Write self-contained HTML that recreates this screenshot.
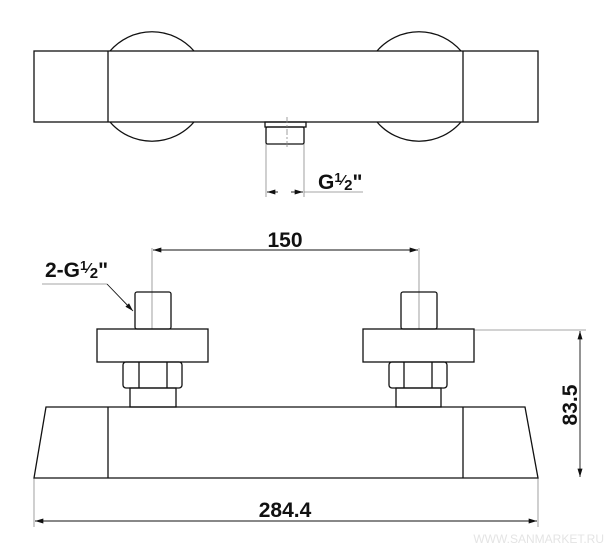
<!DOCTYPE html>
<html><head><meta charset="utf-8"><style>
html,body{margin:0;padding:0;background:#fff;}
svg{display:block;}
text{font-family:"Liberation Sans",Arial,sans-serif;fill:#111;}
</style></head><body>
<svg width="611" height="553" viewBox="0 0 611 553" xmlns="http://www.w3.org/2000/svg">
<defs>
<marker id="ar" viewBox="0 0 10 6" refX="10" refY="3" markerWidth="12" markerHeight="5" markerUnits="userSpaceOnUse" orient="auto-start-reverse"><path d="M0,0 L10,3 L0,6 z" fill="#111"/></marker>
</defs>
<g fill="none" stroke="#111" stroke-width="1.3">
<path d="M110,51 A55.5,55.5 0 0 1 194,51"/>
<path d="M110,122 A55.5,55.5 0 0 0 194,122"/>
<path d="M377,51 A55.5,55.5 0 0 1 461,51"/>
<path d="M377,122 A55.5,55.5 0 0 0 461,122"/>
<rect x="34" y="51" width="504" height="71"/>
<line x1="108" y1="51" x2="108" y2="122"/>
<line x1="463" y1="51" x2="463" y2="122"/>
<rect x="265" y="122" width="41" height="5"/>
<rect x="266" y="127" width="38" height="17" rx="1.5"/>
</g>
<g stroke="#888" stroke-width="0.8" fill="none">
<line x1="287" y1="117" x2="287" y2="148" stroke-dasharray="6,2,2,2"/>
<line x1="266" y1="144" x2="266" y2="197"/>
<line x1="304" y1="144" x2="304" y2="197"/>
<line x1="304" y1="192" x2="363" y2="192"/>
<line x1="152" y1="248" x2="152" y2="329"/>
<line x1="419" y1="248" x2="419" y2="329"/>
<line x1="474" y1="330" x2="586" y2="330"/>
<line x1="34" y1="478" x2="34" y2="527"/>
<line x1="538" y1="478" x2="538" y2="527"/>
<line x1="42" y1="284" x2="107" y2="284"/>
</g>
<g stroke="#111" stroke-width="0.9" fill="none">
<line x1="267" y1="192" x2="278" y2="192" marker-start="url(#ar)"/>
<line x1="291" y1="192" x2="303" y2="192" marker-end="url(#ar)"/>
<line x1="153" y1="250" x2="418" y2="250" marker-start="url(#ar)" marker-end="url(#ar)"/>
<line x1="580" y1="331" x2="580" y2="477" marker-start="url(#ar)" marker-end="url(#ar)"/>
<line x1="35" y1="521" x2="537" y2="521" marker-start="url(#ar)" marker-end="url(#ar)"/>
<line x1="107" y1="284" x2="133" y2="311" marker-end="url(#ar)"/>
</g>
<g fill="none" stroke="#111" stroke-width="1.3">
<rect x="135" y="292" width="36" height="37" rx="2"/>
<rect x="97" y="329" width="111" height="33"/>
<rect x="123" y="362" width="59" height="26" rx="3"/>
<line x1="139" y1="362" x2="139" y2="388"/><line x1="167" y1="362" x2="167" y2="388"/>
<rect x="130" y="388" width="46" height="19"/>
<rect x="401" y="292" width="36" height="37" rx="2"/>
<rect x="363" y="329" width="111" height="33"/>
<rect x="389" y="362" width="58" height="26" rx="3"/>
<line x1="404" y1="362" x2="404" y2="388"/><line x1="432" y1="362" x2="432" y2="388"/>
<rect x="396" y="388" width="45" height="19"/>
<path d="M46,407 L525,407 L538,478 L34,478 Z"/>
<line x1="108" y1="407" x2="108" y2="478"/>
<line x1="463" y1="407" x2="463" y2="478"/>
</g>
<g font-weight="bold">
<text x="318" y="189" font-size="21">G<tspan font-size="13" dy="-7">1</tspan><tspan font-size="15" dy="3">⁄</tspan><tspan font-size="15" dy="5">2</tspan><tspan dy="-1">"</tspan></text>
<text x="45" y="277" font-size="21">2-G<tspan font-size="13" dy="-7">1</tspan><tspan font-size="15" dy="3">⁄</tspan><tspan font-size="15" dy="5">2</tspan><tspan dy="-1">"</tspan></text>
<text x="285" y="247" font-size="21" text-anchor="middle">150</text>
<text x="285" y="517" font-size="21" text-anchor="middle">284.4</text>
<text x="577" y="405" font-size="21" text-anchor="middle" transform="rotate(-90 577 405)">83.5</text>
</g>
<text x="604" y="543" font-size="12" text-anchor="end" style="fill:#e4e4e4">WWW.SANMARKET.RU</text>
</svg>
</body></html>
